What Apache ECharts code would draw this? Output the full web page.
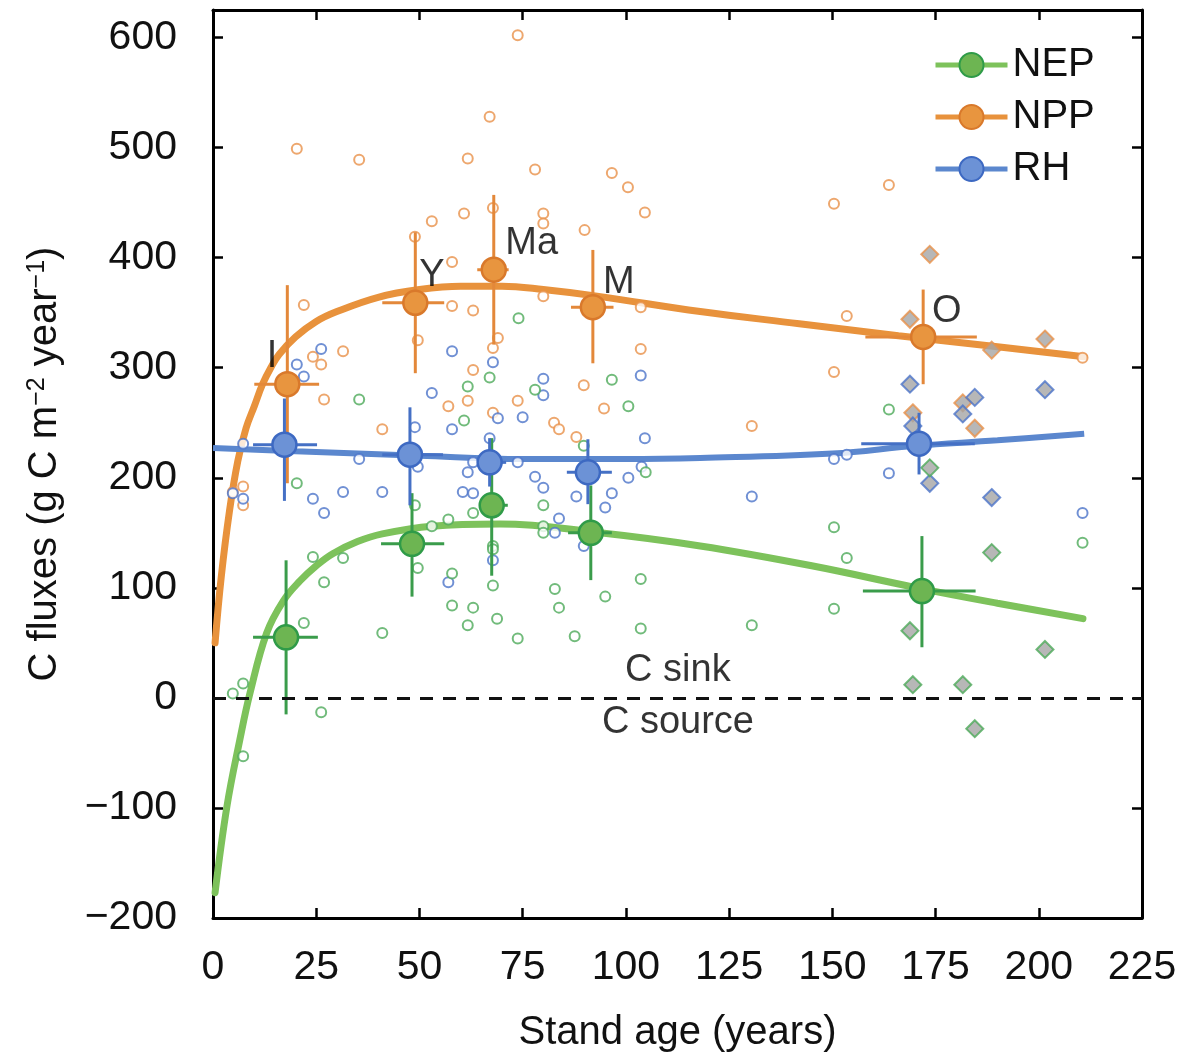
<!DOCTYPE html>
<html>
<head>
<meta charset="utf-8">
<script src="https://cdn.jsdelivr.net/npm/echarts@6/dist/echarts.min.js"></script>
<style>
  html, body { margin: 0; padding: 0; background: #fff; }
  #chart { width: 1184px; height: 1060px; }
</style>
</head>
<body>
<div id="chart"></div>
<script>
// observed sites (hollow circles)
const nppObs = [[73.8,602],[67,528],[20.3,499],[35.4,489],[61.7,490],[53,433],[60.8,440],[67.8,445],[48.9,419],[57.9,396],
  [22,357],[57.9,356],[63,352],[78,480],[96.6,477],[100.5,464],[104.6,441],[80,440],[80,431],[90,425],[80,365],[103.6,355],
  [150.4,449],[163.7,466],[153.5,347],[31.5,315],[24.2,310],[26.2,303],[26.9,271],[41,244],[4.8,187],[7.3,192],[7.3,175],
  [49.6,325],[63,298],[57,265],[61.7,270],[67.8,259],[69,327],[67.8,318],[73.8,270],[89.8,284],[94.7,263],[82.6,250],
  [83.8,244],[88,237],[103.6,317],[150.4,296],[130.5,247],[210.6,309]];
const rhObs = [[26.2,317],[20.3,303],[22,292],[7.3,231],[57.9,315],[67.8,305],[53,277],[69,254],[57.9,244],[48.9,246],
  [67,236],[35.4,217],[49.6,210],[61.7,205],[63,214],[73.8,214],[4.8,186],[7.3,181],[24.2,181],[26.9,168],[31.5,187],
  [41,187],[60.5,187],[63,186],[67.8,125],[57,105],[80,290],[80,275],[75,255],[103.6,293],[104.6,236],[78,201],[80,191],
  [88,183],[96.6,186],[95,173],[100.6,200],[103.8,210],[83.8,163],[82.8,150],[89.8,138],[150.4,217],[153.5,221],
  [163.7,204],[130.5,183],[210.6,168]];
const nepObs = [[35.4,271],[67,291],[61.7,283],[60.8,252],[74,345],[20.3,195],[48.9,175],[63,168],[57,162],[53,156],
  [24.2,128],[31.5,127],[26.9,105],[49.6,118],[57.9,113],[67.8,138],[67.8,135],[67.8,102],[57.9,84],[63,82],[68.8,72],
  [22,68],[61.7,66],[78,280],[96.6,289],[100.6,265],[89.8,229],[104.8,205],[80,175],[80,156],[80,150],[82.8,99],[83.8,82],
  [95,92],[103.6,108],[103.6,63],[41,59],[73.8,54],[87.6,56],[4.8,4],[7.3,13],[7.3,-53],[26.2,-13],[163.7,262],
  [150.4,155],[153.5,127],[150.4,81],[130.5,66],[210.6,141]];

// old-growth sites (grey diamonds)
const nppOld = [[173.6,403],[168.8,344],[169.5,259],[181.6,268],[184.5,245],[188.6,316],[201.5,326]];
const rhOld = [[168.8,285],[169.5,247],[173.6,195],[181.6,258],[184.5,273],[188.6,182],[201.5,280]];
const nepOld = [[173.6,209],[188.6,132],[168.8,61],[201.5,44],[169.5,12],[181.6,12],[184.5,-28]];

// fitted curves
const nppCurve = [[0.5,50],[2,110],[4,170],[6,215],[8,245],[10,265],[12,285],[14,300],[16,312],[20,328],[25,342],
  [30,351],[40,364],[50,371],[60,374],[70,374],[80,371],[93,365],[118,351],[142,340],[166,329],[190,319],[211,310]];
const rhCurve = [[0,227],[20,224],[50,220],[75,217],[100,217],[118,218],[150,222],[170,229],[190,234],[211,240]];
const nepCurve = [[0.5,-177],[3.4,-98],[6.5,-38],[9,5],[13,59],[17,88],[21,106],[25,120],[29,131],[35,142],[41,149],
  [53,156],[69.5,158],[93.7,150],[118,138],[145,120],[170.5,100],[190,86],[210.7,72]];

// stage means: [age, flux, ageLow, ageHigh, fluxLow, fluxHigh]
const nppMean = [[18,285,10,25.7,195,375],[49,359,41,56,295,423],[68,389,64,71.6,321,457],[92,355,86.7,97,304,407],[172,328,158,185,285,371]];
const rhMean = [[17.3,230,9.7,25.2,179,272],[47.7,221,41,55.7,175,264],[67,214,64,71,192,236],[90.8,205,85.7,96.6,176,235],[171,231,157,184.5,203,259]];
const nepMean = [[17.7,55,9.7,25.4,-15,125],[48.2,140,40.7,56,92,186],[67.5,175,64.6,71.4,111,236],[91.5,150,86,96.6,107,193],[171.7,97,157.4,184.7,46,147]];

const stageNames = ['I', 'Y', 'Ma', 'M', 'O'];
const stageAt = [[14.3,310],[53,384],[77.2,413],[98.3,377],[177.7,351]];
const zoneNames = ['C sink', 'C source'];
const zoneAt = [[112.6,25],[112.6,-22]];

const xTicks = { min: 0, max: 225, interval: 25 };
const yTicks = { min: -200, max: 625, interval: 100 };

const FONT = '"Liberation Sans", Arial, Helvetica, sans-serif';
const colors = {
  NEP: { curve: '#7DC25B', obs: '#4DAA5A', fill: '#6DB552', border: '#2F9B48', bar: '#3A9C4B' },
  NPP: { curve: '#E8923C', obs: '#E8914A', fill: '#E8953F', border: '#D9792B', bar: '#E3883A' },
  RH: { curve: '#5B87CE', obs: '#4C74C9', fill: '#6C92D6', border: '#3D69C2', bar: '#4570C5' },
};

const chart = echarts.init(document.getElementById('chart'));

function errorBars(color) {
  return function (params, api) {
    const x = api.value(0);
    const y = api.value(1);
    const l = api.coord([api.value(2), y]);
    const r = api.coord([api.value(3), y]);
    const lo = api.coord([x, api.value(4)]);
    const hi = api.coord([x, api.value(5)]);
    const style = { stroke: color, lineWidth: 3 };
    return {
      type: 'group',
      children: [
        { type: 'line', shape: { x1: l[0], y1: l[1], x2: r[0], y2: r[1] }, style },
        { type: 'line', shape: { x1: lo[0], y1: lo[1], x2: hi[0], y2: hi[1] }, style },
      ],
    };
  };
}

function curveSeries(data, c) {
  return {
    type: 'line', data, smooth: 0.4, symbol: 'none', z: 2, silent: true,
    lineStyle: { color: c.curve, width: 7, cap: 'round' },
  };
}

function obsSeries(data, c) {
  return {
    type: 'scatter', data, symbol: 'circle', symbolSize: 10, z: 3, silent: true,
    itemStyle: { color: '#fff', borderColor: c.obs, borderWidth: 2 },
  };
}

function oldSeries(data, c) {
  return {
    type: 'scatter', data, symbol: 'diamond', symbolSize: 17, z: 3, silent: true,
    itemStyle: { color: '#A5A5A5', borderColor: c.obs, borderWidth: 2 },
  };
}

function barSeries(data, c) {
  return {
    type: 'custom', data, z: 4, silent: true,
    renderItem: errorBars(c.bar), encode: { x: 0, y: 1 },
  };
}

function meanSeries(name, data, c) {
  return {
    name, type: 'line', z: 5, silent: true,
    data: data.map(d => [d[0], d[1]]),
    symbol: 'circle', symbolSize: 24,
    lineStyle: { width: 0 },
    itemStyle: { color: c.fill, borderColor: c.border, borderWidth: 2.5 },
  };
}

const textLabel = {
  show: true, position: 'inside', formatter: '{b}',
  color: '#000', fontFamily: FONT, fontSize: 38,
};

const minus = v => String(v).replace('-', '\u2212');

const frameLine = { onZero: false, lineStyle: { color: '#000', width: 3 } };
const frameTick = { inside: true, length: 10, lineStyle: { color: '#000', width: 2.5 } };

chart.setOption({
  animation: false,
  grid: { left: 213, right: 42, top: 10, bottom: 142 },
  legend: {
    orient: 'vertical', left: 928, top: 40,
    itemWidth: 72, itemHeight: 30, itemGap: 12,
    textStyle: { fontFamily: FONT, fontSize: 40, color: '#111' },
    data: ['NEP', 'NPP', 'RH'].map(n => ({ name: n, lineStyle: { color: colors[n].curve, width: 5 } })),
  },
  xAxis: [
    {
      type: 'value', min: xTicks.min, max: xTicks.max, interval: xTicks.interval,
      name: 'Stand age (years)', nameLocation: 'middle', nameGap: 95,
      nameTextStyle: { fontFamily: FONT, fontSize: 40, color: '#111' },
      axisLine: frameLine, axisTick: frameTick,
      axisLabel: { fontFamily: FONT, fontSize: 41, color: '#111', margin: 29 },
      splitLine: { show: false },
    },
    {
      type: 'value', position: 'top', min: xTicks.min, max: xTicks.max, interval: xTicks.interval,
      axisLine: frameLine, axisTick: frameTick,
      axisLabel: { show: false }, splitLine: { show: false },
    },
  ],
  yAxis: [
    {
      type: 'value', min: yTicks.min, max: yTicks.max, interval: yTicks.interval,
      name: 'C fluxes (g C m{sup|\u22122} year{sup|\u22121})', nameLocation: 'middle', nameGap: 148,
      nameTextStyle: {
        fontFamily: FONT, fontSize: 40, color: '#111',
        rich: { sup: { fontFamily: FONT, fontSize: 25, color: '#111', verticalAlign: 'top', lineHeight: 40 } },
      },
      axisLine: frameLine, axisTick: frameTick,
      axisLabel: {
        fontFamily: FONT, fontSize: 41, color: '#111', margin: 36,
        formatter: v => (v % 100 === 0 ? minus(v) : ''),
      },
      splitLine: { show: false },
    },
    {
      type: 'value', position: 'right', min: yTicks.min, max: yTicks.max, interval: yTicks.interval,
      axisLine: frameLine, axisTick: frameTick,
      axisLabel: { show: false }, splitLine: { show: false },
    },
  ],
  series: [
    Object.assign(curveSeries(nepCurve, colors.NEP), {
      markLine: {
        silent: true, symbol: 'none', label: { show: false },
        lineStyle: { color: '#111', width: 3, type: [13, 10] },
        data: [{ yAxis: 0 }],
      },
    }),
    curveSeries(nppCurve, colors.NPP),
    Object.assign(curveSeries(rhCurve, colors.RH), { lineStyle: { color: colors.RH.curve, width: 6 } }),
    obsSeries(nppObs, colors.NPP),
    obsSeries(rhObs, colors.RH),
    obsSeries(nepObs, colors.NEP),
    oldSeries(nppOld, colors.NPP),
    oldSeries(rhOld, colors.RH),
    oldSeries(nepOld, colors.NEP),
    barSeries(nepMean, colors.NEP),
    barSeries(nppMean, colors.NPP),
    barSeries(rhMean, colors.RH),
    meanSeries('NEP', nepMean, colors.NEP),
    meanSeries('NPP', nppMean, colors.NPP),
    meanSeries('RH', rhMean, colors.RH),
    {
      type: 'scatter', symbolSize: 0, z: 6, silent: true, label: textLabel,
      data: stageNames.map((n, i) => ({ name: n, value: stageAt[i] })),
    },
    {
      type: 'scatter', symbolSize: 0, z: 6, silent: true, label: textLabel,
      data: zoneNames.map((n, i) => ({ name: n, value: zoneAt[i] })),
    },
  ],
});
</script>
</body>
</html>
